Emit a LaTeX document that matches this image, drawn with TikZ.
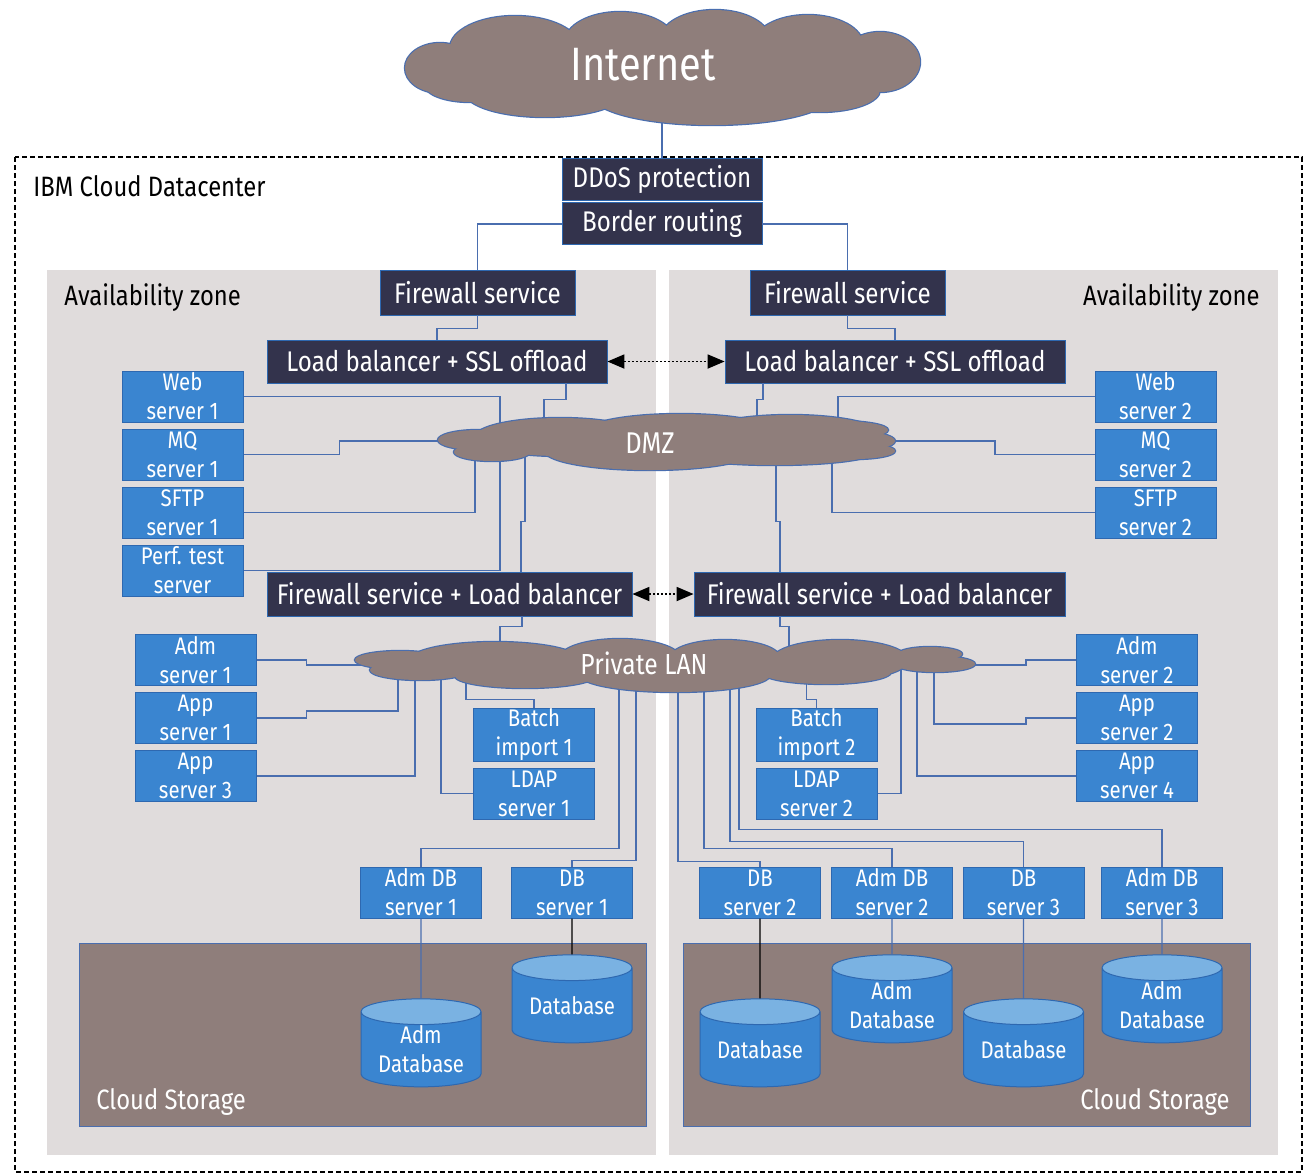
\documentclass[tikz,border=0pt]{standalone}
\usepackage{fontspec}
\setmainfont[FakeStretch=0.85]{Fira Sans}
\usepackage{xcolor}
\usepackage{tikz}
\usetikzlibrary{positioning, arrows.meta, shapes.geometric}

\definecolor{navybox}{RGB}{51,51,76}
\definecolor{srvblue}{RGB}{58,133,208}
\definecolor{srvedge}{RGB}{46,104,176}
\definecolor{wireblue}{RGB}{74,110,175}
\definecolor{zonegray}{RGB}{224,220,220}
\definecolor{cloudbrown}{RGB}{143,126,123}
\definecolor{dbtop}{RGB}{122,178,226}

% cloud puffs: centre x / centre y / x radius / y radius (px)
\newcommand\inetpuffs{440/68/35/25, 515/48/65/32, 620/42/55/30, 715/40/55/30, 808/45/55/30, 880/62/40/30, 820/90/60/22, 712/95/120/30, 545/92/80/25, 470/85/45/17, 660/65/200/35}
\newcommand\dmzpuffs{478/440/40/10, 492/452/38/9, 560/437/85/19, 650/451/105/19, 680/432/95/18, 790/434/90/19, 775/452/100/13, 852/441/43/10, 840/430/48/9, 855/451/40/8}
\newcommand\lanpuffs{400/660/45/9, 420/670/50/10, 495/660/85/18, 525/676/70/12, 620/658/60/19, 675/675/95/17, 725/658/55/18, 840/660/68/20, 826/672/65/12, 930/654/32/7, 935/664/40/8}

\begin{document}
\begin{tikzpicture}[x=0.5pt, y=-0.5pt, >={Triangle[length=8.5pt,width=7pt]},
    every node/.style={align=center, text=white, inner sep=0pt},
    darkbox/.style={rectangle, draw=srvedge, line width=0.4pt, fill=navybox, font=\fontsize{14.2}{16}\selectfont},
    srv/.style={rectangle, draw=srvedge, line width=0.5pt, fill=srvblue, minimum width=60.5pt, minimum height=25.5pt, font=\fontsize{12}{14.5}\selectfont},
    dbcyl/.style={cylinder, shape border rotate=90, aspect=0.3, draw=srvedge, line width=0.5pt, cylinder uses custom fill, cylinder body fill=srvblue, cylinder end fill=dbtop, minimum width=60pt, minimum height=44pt, font=\fontsize{12}{14.5}\selectfont},
    puffedge/.style={draw=wireblue, fill=cloudbrown, line width=1.2pt},
    puffbody/.style={fill=cloudbrown},
    link/.style={draw=wireblue, line width=0.7pt},
    mirror/.style={dash pattern=on 1pt off 1pt, line width=0.9pt, <->},
    tag/.style={text=black, font=\fontsize{14}{16}\selectfont}]
    \useasboundingbox (0,0) rectangle (1304,1174);
    % zones
    \draw[dash pattern=on 2.5pt off 1.5pt, line width=0.6pt] (15,157) rectangle (1302,1172);
    \fill[zonegray] (47,270) rectangle (656,1155);
    \fill[zonegray] (669,270) rectangle (1278,1155);
    \filldraw[fill=cloudbrown, draw=wireblue, line width=0.5pt] (79,943) rectangle (646,1126);
    \filldraw[fill=cloudbrown, draw=wireblue, line width=0.5pt] (683,943) rectangle (1250,1126);
    \node[tag, anchor=west] (dclabel) at (33,186) {IBM Cloud Datacenter};
    \node[tag, anchor=west] (zone1) at (64,298) {Availability zone};
    \node[tag, anchor=east] (zone2) at (1260,298) {Availability zone};
    \node[anchor=west, font=\fontsize{14}{16}\selectfont] (store1) at (96,1102) {Cloud Storage};
    \node[anchor=east, font=\fontsize{14}{16}\selectfont] (store2) at (1230,1102) {Cloud Storage};

    % edge services
    \coordinate (inetc) at (662,70);
    \coordinate (dmzc) at (666,441);
    \coordinate (lanc) at (665,665);
    \node[darkbox, minimum width=100pt, minimum height=21pt] (ddos) at (662,179) {DDoS protection};
    \node[darkbox, minimum width=100pt, minimum height=21pt, below=1pt of ddos] (border) {Border routing};
    \node[darkbox, minimum width=97.5pt, minimum height=22.5pt] (fw1) at (477.5,292.5) {Firewall service};
    \node[darkbox, minimum width=97.5pt, minimum height=22.5pt] (fw2) at (847.5,292.5) {Firewall service};
    \node[darkbox, minimum width=170pt, minimum height=21.5pt] (lb1) at (437,361.5) {Load balancer + SSL offload};
    \node[darkbox, minimum width=170pt, minimum height=21.5pt] (lb2) at (895,361.5) {Load balancer + SSL offload};
    \node[darkbox, minimum width=182.5pt, minimum height=22pt] (fwlb1) at (449.5,594) {Firewall service + Load balancer};
    \node[darkbox, minimum width=185.5pt, minimum height=22pt] (fwlb2) at (879.5,594) {Firewall service + Load balancer};

    % DMZ servers
    \node[srv] (web1) at (182.5,396.5) {Web\\server 1};
    \node[srv, below=3pt of web1] (mq1) {MQ\\server 1};
    \node[srv, below=3pt of mq1] (sftp1) {SFTP\\server 1};
    \node[srv, below=3pt of sftp1] (perf) {Perf. test\\server};
    \node[srv] (web2) at (1155.5,396.5) {Web\\server 2};
    \node[srv, below=3pt of web2] (mq2) {MQ\\server 2};
    \node[srv, below=3pt of mq2] (sftp2) {SFTP\\server 2};

    % private LAN servers
    \node[srv] (adm1) at (195.5,660) {Adm\\server 1};
    \node[srv, below=3pt of adm1] (app1) {App\\server 1};
    \node[srv, below=3pt of app1] (app3) {App\\server 3};
    \node[srv] (batch1) at (534,735) {Batch\\import 1};
    \node[srv, below=3pt of batch1] (ldap1) {LDAP\\server 1};
    \node[srv] (adm2) at (1137,660) {Adm\\server 2};
    \node[srv, below=3pt of adm2] (app2) {App\\server 2};
    \node[srv, below=3pt of app2] (app4) {App\\server 4};
    \node[srv] (batch2) at (816.5,735) {Batch\\import 2};
    \node[srv, below=3pt of batch2] (ldap2) {LDAP\\server 2};
    \node[srv] (admdb1) at (421,892.5) {Adm DB\\server 1};
    \node[srv] (db1) at (572,892.5) {DB\\server 1};
    \node[srv] (db2) at (760,892.5) {DB\\server 2};
    \node[srv] (admdb2) at (892,892.5) {Adm DB\\server 2};
    \node[srv] (db3) at (1023.5,892.5) {DB\\server 3};
    \node[srv] (admdb3) at (1162,892.5) {Adm DB\\server 3};

    % storage
    \node[dbcyl] (admstore1) at (421,1049.5) {Adm\\Database};
    \node[dbcyl] (store1db) at (572,1005.5) {Database};
    \node[dbcyl] (store2db) at (760,1049.5) {Database};
    \node[dbcyl] (admstore2) at (892,1005.5) {Adm\\Database};
    \node[dbcyl] (store3db) at (1023.5,1049.5) {Database};
    \node[dbcyl] (admstore3) at (1162,1005.5) {Adm\\Database};

    % links
    \draw[link] (inetc) -- (ddos);
    \draw[link] (border.west) -| (fw1.north);
    \draw[link] (border.east) -| (fw2.north);
    \draw[link] (fw1.south) -- ++(0,13) -| (lb1.north);
    \draw[link] (fw2.south) -- ++(0,13) -| (lb2.north);
    \draw[mirror] (lb1) -- (lb2);
    \draw[mirror] (fwlb1) -- (fwlb2);

    \draw[link] (web1.east) -| (500,0 |- dmzc);
    \draw[link] (perf.east) -| (500,0 |- dmzc);
    \draw[link] (mq1.east) -- ++(96,0) |- (dmzc);
    \draw[link] (sftp1.east) -| (475,0 |- dmzc);
    \draw[link] (lb1.south -| 566,0) -- ++(0,16) -| (dmzc -| 544,0);
    \draw[link] (fwlb1.north -| 521,0) -- ++(0,-50) -| (dmzc -| 525,0);
    \draw[link] (web2.west) -| (838,0 |- dmzc);
    \draw[link] (mq2.west) -- ++(-99.5,0) |- (dmzc);
    \draw[link] (sftp2.west) -| (832,0 |- dmzc);
    \draw[link] (lb2.south -| 763,0) -- ++(0,16) -| (dmzc -| 757,0);
    \draw[link] (fwlb2.north -| 780,0) -- ++(0,-50) -| (dmzc -| 776,0);

    \draw[link] (fwlb1.south -| 522,0) -- ++(0,10) -| (lanc -| 500,0);
    \draw[link] (adm1.east) -- ++(50,0) |- (lanc);
    \draw[link] (app1.east) -- ++(50,0) -- ++(0,-7) -| (lanc -| 398,0);
    \draw[link] (app3.east) -| (lanc -| 415,0);
    \draw[link] (ldap1.west) -| (lanc -| 441,0);
    \draw[link] (batch1.north) -- ++(0,-9) -| (lanc -| 466,0);
    \draw[link] (admdb1.north) -- ++(0,-18) -| (lanc -| 619,0);
    \draw[link] (db1.north) -- ++(0,-6) -| (lanc -| 636,0);
    \draw[link] (fwlb2.south -| 780,0) -- ++(0,10) -| (lanc -| 789,0);
    \draw[link] (adm2.west) -- ++(-50,0) |- (lanc);
    \draw[link] (app2.west) -- ++(-50,0) -- ++(0,6) -| (lanc -| 934,0);
    \draw[link] (app4.west) -| (lanc -| 917,0);
    \draw[link] (ldap2.east) -| (lanc -| 901,0);
    \draw[link] (batch2.north) -- ++(0,-9) -| (lanc -| 806.5,0);
    \draw[link] (db2.north) -- ++(0,-5) -| (lanc -| 678,0);
    \draw[link] (admdb2.north) -- ++(0,-18) -| (lanc -| 704,0);
    \draw[link] (db3.north) -- ++(0,-25) -| (lanc -| 730,0);
    \draw[link] (admdb3.north) -- ++(0,-37) -| (lanc -| 739,0);

    \draw[link] (admdb1) -- (admstore1);
    \draw[line width=0.6pt] (db1) -- (store1db);
    \draw[line width=0.6pt] (db2) -- (store2db);
    \draw[link] (admdb2) -- (admstore2);
    \draw[link] (db3) -- (store3db);
    \draw[link] (admdb3) -- (admstore3);

    % networks (outline first, then the fill hides inner edges)
    \foreach \cx/\cy/\rx/\ry in \inetpuffs
      \draw[puffedge] (\cx,\cy) ellipse [x radius=\rx, y radius=\ry];
    \foreach \cx/\cy/\rx/\ry in \inetpuffs
      \fill[puffbody] (\cx,\cy) ellipse [x radius=\rx, y radius=\ry];
    \foreach \cx/\cy/\rx/\ry in \dmzpuffs
      \draw[puffedge] (\cx,\cy) ellipse [x radius=\rx, y radius=\ry];
    \foreach \cx/\cy/\rx/\ry in \dmzpuffs
      \fill[puffbody] (\cx,\cy) ellipse [x radius=\rx, y radius=\ry];
    \foreach \cx/\cy/\rx/\ry in \lanpuffs
      \draw[puffedge] (\cx,\cy) ellipse [x radius=\rx, y radius=\ry];
    \foreach \cx/\cy/\rx/\ry in \lanpuffs
      \fill[puffbody] (\cx,\cy) ellipse [x radius=\rx, y radius=\ry];
    \node[font=\fontsize{23.4}{26}\selectfont] (inet) at (643,65) {Internet};
    \node[font=\fontsize{15}{17}\selectfont] (dmz) at (650,443) {DMZ};
    \node[font=\fontsize{14.5}{17}\selectfont] (lan) at (644,663) {Private LAN};
\end{tikzpicture}
\end{document}
